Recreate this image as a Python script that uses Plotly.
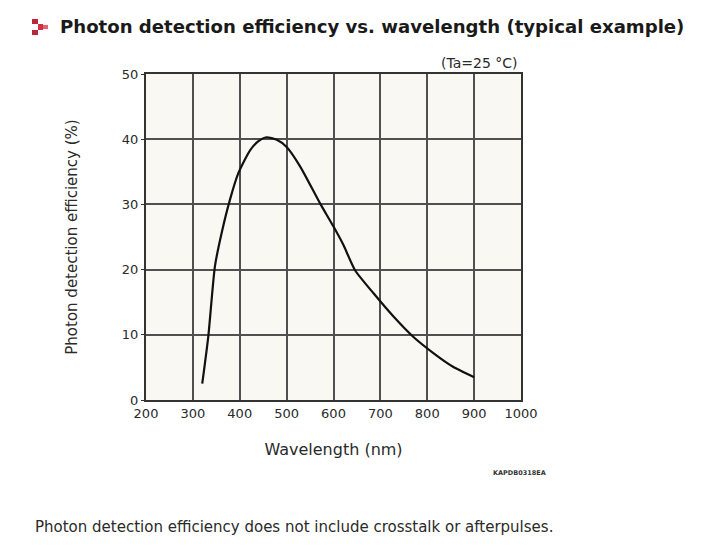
import plotly.graph_objects as go

wavelength_nm = [320, 333, 347, 361, 379, 397, 422, 440, 457, 479, 500, 529, 571, 600, 621, 646, 685, 728, 770, 813, 855, 900]
pde_percent = [2.5, 9.8, 20.5, 25.5, 30.7, 34.8, 38.3, 39.7, 40.3, 39.9, 38.8, 35.8, 30.2, 26.6, 23.8, 19.9, 16.4, 12.8, 9.7, 7.2, 5.1, 3.5]
x_ticks = [200, 300, 400, 500, 600, 700, 800, 900, 1000]
y_ticks = [0, 10, 20, 30, 40, 50]

TXT = "#2a2a2a"
FONT = "DejaVu Sans"
GRID = "#505050"

# page offset (body margin) and target plot box in page pixels
OFF = 8
PX0, PX1, PY0, PY1 = 146, 521, 74, 400
W, H = 704, 557
PW, PH = PX1 - PX0, PY1 - PY0


def fx(px):
    return (px - PX0) / PW


def fy(py):
    return (PY1 - py) / PH


fig = go.Figure()
fig.add_trace(go.Scatter(x=wavelength_nm, y=pde_percent, mode="lines",
                         line=dict(color="#111111", width=2.2, shape="spline", smoothing=0.6),
                         hoverinfo="skip", showlegend=False))

fig.update_layout(
    width=W, height=H,
    margin=dict(l=PX0 - OFF, r=W - PX1 + OFF, t=PY0 - OFF, b=H - PY1 + OFF),
    paper_bgcolor="white", plot_bgcolor="#f9f8f2",
    font=dict(family=FONT, color=TXT, size=13),
    xaxis=dict(range=[200, 1000], tickvals=x_ticks, ticktext=[str(v) for v in x_ticks],
               showgrid=True, gridcolor=GRID, gridwidth=1.8, zeroline=False,
               showline=True, linecolor="#333333", linewidth=2, mirror=True,
               ticks="", ticklen=0,
               tickfont=dict(size=13, family=FONT, color=TXT),
               title=dict(text="Wavelength (nm)", font=dict(size=16, family=FONT, color=TXT), standoff=24)),
    yaxis=dict(range=[0, 50], tickvals=y_ticks, ticktext=[str(v) for v in y_ticks],
               showgrid=True, gridcolor=GRID, gridwidth=1.8, zeroline=False,
               showline=True, linecolor="#333333", linewidth=2, mirror=True,
               ticks="outside", ticklen=3, tickcolor="#333333",
               tickfont=dict(size=13, family=FONT, color=TXT),
               title=dict(text="Photon detection efficiency (%)", font=dict(size=15, family=FONT, color=TXT), standoff=41)),
)

# Title
fig.add_annotation(xref="paper", yref="paper", x=fx(58), y=fy(27),
                   xanchor="left", yanchor="middle", showarrow=False,
                   text="<b>Photon detection efficiency vs. wavelength (typical example)</b>",
                   font=dict(size=18.1, family=FONT, color="#1a1a1a"))
# Condition note
fig.add_annotation(xref="paper", yref="paper", x=fx(520), y=fy(63),
                   xanchor="right", yanchor="middle", showarrow=False,
                   text="(Ta=25 °C)", font=dict(size=14, family=FONT, color=TXT))
# Document code
fig.add_annotation(xref="paper", yref="paper", x=fx(548), y=fy(473),
                   xanchor="right", yanchor="middle", showarrow=False,
                   text="<b>KAPDB0318EA</b>", font=dict(size=6.5, family=FONT, color="#333333"))
# Footnote
fig.add_annotation(xref="paper", yref="paper", x=fx(33), y=fy(527),
                   xanchor="left", yanchor="middle", showarrow=False,
                   text="Photon detection efficiency does not include crosstalk or afterpulses.",
                   font=dict(size=15, family=FONT, color=TXT))


# Red icon next to title
def px_rect(x0, y0, x1, y1, color):
    fig.add_shape(type="rect", xref="paper", yref="paper",
                  x0=fx(x0), x1=fx(x1), y0=fy(y1), y1=fy(y0),
                  line=dict(width=0), fillcolor=color)


px_rect(32, 19, 38, 24, "#b8283a")
px_rect(32, 30, 38, 35, "#b8283a")
px_rect(38, 24, 43, 30, "#d03040")
px_rect(43, 25, 48, 29, "#e86070")

fig.write_html("out.html")
